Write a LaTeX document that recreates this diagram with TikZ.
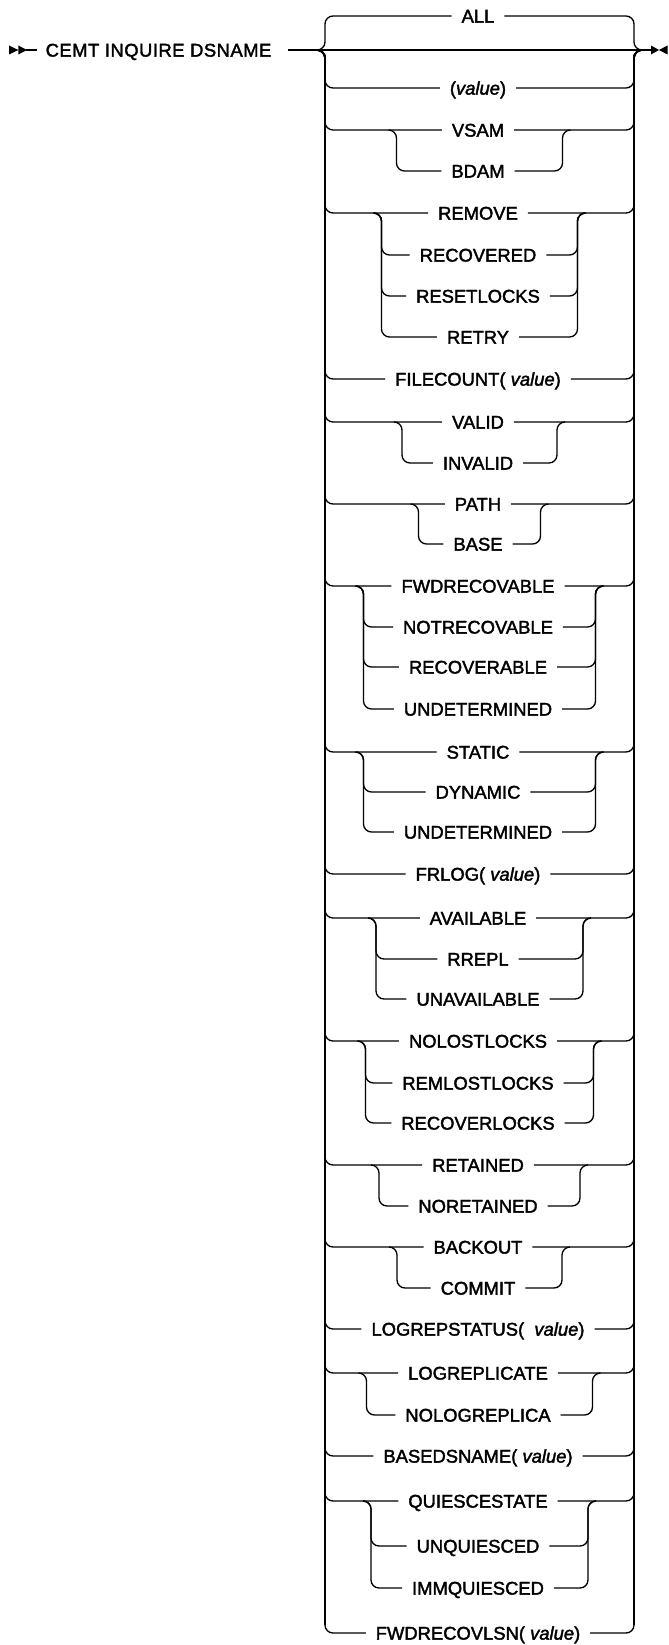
\documentclass[tikz,border=0pt]{standalone}
\usepackage{fontspec}
\setmainfont{Liberation Sans}[FakeBold=2]
\newcommand{\RowTop}[3]{%
  \node[lbl] (#1) at (478,#2) {#3};
  \draw[rc] (317,50) -- (325,50) -- (325,#2) -- (#1.west);
  \draw[rc] (#1.east) -- (634,#2) -- (634,50) -- (642,50);}
\newcommand{\RowSub}[5]{%
  \node[lbl] (#1) at (478,#2) {#3};
  \draw[rc] ({479.5-#5-8},#4) -- ({479.5-#5},#4) -- ({479.5-#5},#2) -- (#1.west);
  \draw[rc] (#1.east) -- ({479.5+#5},#2) -- ({479.5+#5},#4) -- ({479.5+#5+8},#4);}
\begin{document}
\begin{tikzpicture}[x=0.75pt,y=-0.75pt,line width=1pt,
  rc/.style={rounded corners=6pt},
  railv/.style={line width=1.7pt},
  lbl/.style={font=\fontsize{13.8}{16}\selectfont, inner xsep=7pt, inner ysep=0pt, text height=9.9pt, text depth=0pt}]
\useasboundingbox (0,0) rectangle (668,1645);
% start and main line
\fill (9,45.5) -- (18.3,50) -- (9,54.5) -- cycle;
\fill (18.3,45.5) -- (27,50) -- (18.3,54.5) -- cycle;
\node[lbl, anchor=west, inner xsep=0pt, font=\fontsize{13.8}{16}\selectfont\addfontfeature{LetterSpace=2.7}] (cemt) at (45,50) {CEMT INQUIRE DSNAME};
\coordinate (s) at (26,50);
\coordinate (m0) at (288,50);
\coordinate (e) at (651,50);
\draw (s) -- ([xshift=-6pt]cemt.west);
\draw (m0) -- (e);
\fill (651,45.5) -- (659,50) -- (651,54.5) -- cycle;
\fill (667.5,45.5) -- (659,50) -- (667.5,54.5) -- cycle;
% ALL above
\node[lbl] (all) at (478,16) {ALL};
\draw[rc] (317,50) -- (325,50) -- (325,16) -- (all.west);
\draw[rc] (all.east) -- (634,16) -- (634,50) -- (642,50);
% thick rails
\draw[railv] (325,58) -- (325,1625);
\draw[railv] (634,58) -- (634,1625);
% rows
\RowTop{val}{88}{(\textit{value})}
\RowTop{vsam}{130}{VSAM}
\RowSub{bdam}{171}{BDAM}{130}{83}
\RowTop{remove}{213}{REMOVE}
\RowSub{recovered}{255}{RECOVERED}{213}{98}
\RowSub{resetlocks}{296}{RESETLOCKS}{213}{98}
\RowSub{retry}{337}{RETRY}{213}{98}
\RowTop{filecount}{379}{FILECOUNT( \textit{value})}
\RowTop{valid}{422}{VALID}
\RowSub{invalid}{463}{INVALID}{422}{77.5}
\RowTop{path}{504}{PATH}
\RowSub{base}{544}{BASE}{504}{61}
\RowTop{fwdrec}{586}{FWDRECOVABLE}
\RowSub{notrec}{627}{NOTRECOVABLE}{586}{116}
\RowSub{recable}{667}{RECOVERABLE}{586}{116}
\RowSub{undetA}{709}{UNDETERMINED}{586}{116}
\RowTop{static}{752}{STATIC}
\RowSub{dynamic}{792}{DYNAMIC}{752}{116}
\RowSub{undetB}{832}{UNDETERMINED}{752}{116}
\RowTop{frlog}{874}{FRLOG( \textit{value})}
\RowTop{avail}{918}{AVAILABLE}
\RowSub{rrepl}{959}{RREPL}{918}{103.5}
\RowSub{unavail}{999}{UNAVAILABLE}{918}{103.5}
\RowTop{nolost}{1041}{NOLOSTLOCKS}
\RowSub{remlost}{1083}{REMLOSTLOCKS}{1041}{114}
\RowSub{recoverlocks}{1123}{RECOVERLOCKS}{1041}{114}
\RowTop{retained}{1165}{RETAINED}
\RowSub{noretained}{1206}{NORETAINED}{1165}{100.5}
\RowTop{backout}{1247}{BACKOUT}
\RowSub{commit}{1288}{COMMIT}{1247}{82.5}
\RowTop{logrepstatus}{1329}{LOGREPSTATUS(\ \ \textit{value})}
\RowTop{logreplicate}{1373}{LOGREPLICATE}
\RowSub{nologreplica}{1415}{NOLOGREPLICA}{1373}{113}
\RowTop{basedsname}{1456}{BASEDSNAME( \textit{value})}
\RowTop{quiesce}{1501}{QUIESCESTATE}
\RowSub{unquiesced}{1546}{UNQUIESCED}{1501}{108.5}
\RowSub{immquiesced}{1588}{IMMQUIESCED}{1501}{108.5}
\RowTop{fwdrecovlsn}{1633}{FWDRECOVLSN( \textit{value})}
\end{tikzpicture}
\end{document}
